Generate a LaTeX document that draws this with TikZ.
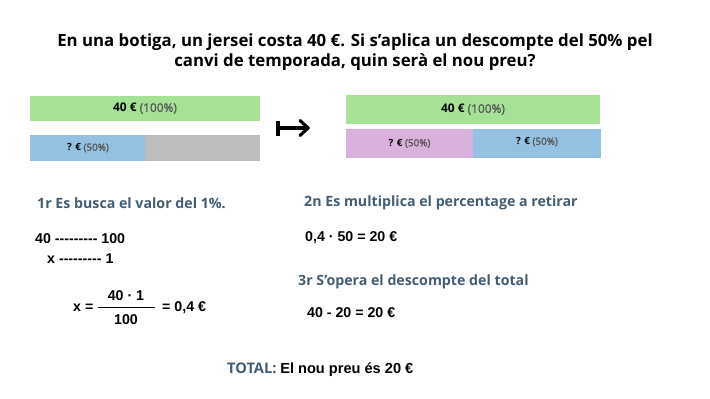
\documentclass[tikz,border=0pt]{standalone}
\usepackage{fontspec}
\setmainfont{Open Sans}
\newfontfamily\osans{Open Sans}
\newfontfamily\osemi{Open Sans}[FakeBold=1.2]
\newfontfamily\arl{Liberation Sans}
\definecolor{barGreen}{HTML}{A6E296}
\definecolor{barBlue}{HTML}{94C1E2}
\definecolor{barGray}{HTML}{BDBDBD}
\definecolor{barPurple}{HTML}{D9B1DC}
\definecolor{headC}{HTML}{435D75}
\definecolor{pctC}{HTML}{555555}
\newcommand{\pct}[1]{\textcolor{pctC}{\osemi\mdseries #1}}
\tikzset{
  lbl/.style={inner sep=0pt, font=\osans\bfseries\fontsize{11.9}{14}\selectfont},
  slbl/.style={inner sep=0pt, font=\osans\bfseries\fontsize{9.9}{11}\selectfont},
  head/.style={inner sep=0pt, anchor=west, text=headC, font=\osans\bfseries\fontsize{14.2}{17}\selectfont},
  calc/.style={inner sep=0pt, anchor=west, font=\arl\bfseries\fontsize{14.2}{17}\selectfont},
}
\begin{document}
\begin{tikzpicture}[x=1pt,y=-1pt]
\useasboundingbox (0,0) rectangle (710,399);
% title
\node[inner sep=0pt, align=center, font=\osans\bfseries\fontsize{16.8}{19.5}\selectfont] (title) at (355,52)
 {En una botiga, un jersei costa 40 €. Si s’aplica un descompte del 50\% pel\\canvi de temporada, quin serà el nou preu?};
% left bars
\fill[barGreen] (30,96) rectangle (260,121);
\node[lbl] (lg) at (145,108.5) {40 € \pct{(100\%)}};
\fill[barBlue] (30,135) rectangle (145,161);
\fill[barGray] (145,135) rectangle (260,161);
\node[slbl] (lb) at (88,148) {? € \pct{(50\%)}};
% arrow
\coordinate (a1) at (278,128);
\coordinate (a2) at (308,128);
\draw[line width=3.2pt] (278,120.5) -- (278,135.5);
\draw[line width=3.2pt, line cap=round, line join=round] (a1) -- (a2);
\draw[line width=3.2pt, line cap=round, line join=round] (300,120.5) -- (308,128) -- (300,135.5);
% right bars
\fill[barGreen] (346,95) rectangle (600,124);
\node[lbl] (rg) at (473,109.5) {40 € \pct{(100\%)}};
\fill[barPurple] (346,129) rectangle (473,158);
\fill[barBlue] (473,129) rectangle (601,158);
\node[slbl] (rp) at (409.5,143.5) {? € \pct{(50\%)}};
\node[slbl] (rb) at (537,142) {? € \pct{(50\%)}};
% headings
\node[head] (h1) at (37,203) {1r Es busca el valor del 1\%.};
\node[head] (h2) at (304,203) {2n Es multiplica el percentage a retirar};
\node[head] (h3) at (298,282) {3r S’opera el descompte del total};
% calculations
\node[calc] (c1) at (35,239) {40 --------- 100};
\node[calc] (c2) at (47,259) {x --------- 1};
\node[calc] (xe) at (73,308) {x =};
\node[calc, anchor=center] (num) at (126,296) {40 · 1};
\node[calc, anchor=center] (den) at (126,320) {100};
\coordinate (fb1) at (98,307.5);
\coordinate (fb2) at (155,307.5);
\draw[line width=1.2pt] (fb1) -- (fb2);
\node[calc] (res) at (162,308) {= 0,4 €};
\node[calc] (c3) at (305,238) {0,4 · 50 = 20 €};
\node[calc] (c4) at (307,313) {40 - 20 = 20 €};
% total
\node[inner sep=0pt, anchor=west, font=\osans\bfseries\fontsize{14.6}{17}\selectfont] (tot) at (227,370)
 {\textcolor{headC}{TOTAL:} \arl El nou preu és 20 €};
\end{tikzpicture}
\end{document}
